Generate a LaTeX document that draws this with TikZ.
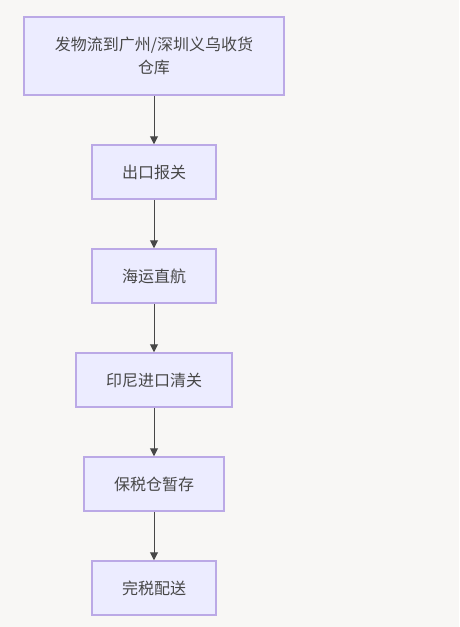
\documentclass[tikz,border=0pt]{standalone}
\usepackage{fontspec}
\setmainfont{Noto Sans CJK SC}
\usetikzlibrary{arrows.meta}
\definecolor{bgc}{HTML}{F8F7F5}
\definecolor{boxfill}{HTML}{ECECFF}
\definecolor{boxline}{HTML}{BBA9E6}
\definecolor{arrowc}{HTML}{333333}
\begin{document}
\begin{tikzpicture}[x=1pt,y=-1pt,
  stepbox/.style={draw=boxline,fill=boxfill,line width=1.5pt,inner sep=0pt,
    font=\fontsize{16}{23.5}\selectfont,text=arrowc!90,align=center},
  flow/.style={draw=arrowc!90,line width=1pt,-{Triangle[length=8pt,width=8pt]}}]
\fill[bgc] (0,0) rectangle (459,627);
\useasboundingbox (0,0) rectangle (459,627);
\node[stepbox,minimum width=260pt,minimum height=78pt] (n1) at (154,56) {发物流到广州/深圳义乌收货\\仓库};
\node[stepbox,minimum width=124pt,minimum height=54pt] (n2) at (154,172) {出口报关};
\node[stepbox,minimum width=124pt,minimum height=54pt] (n3) at (154,276) {海运直航};
\node[stepbox,minimum width=156pt,minimum height=54pt] (n4) at (154,380) {印尼进口清关};
\node[stepbox,minimum width=140pt,minimum height=54pt] (n5) at (154,484) {保税仓暂存};
\node[stepbox,minimum width=124pt,minimum height=54pt] (n6) at (154,588) {完税配送};
\draw[flow] (n1) -- (n2);
\draw[flow] (n2) -- (n3);
\draw[flow] (n3) -- (n4);
\draw[flow] (n4) -- (n5);
\draw[flow] (n5) -- (n6);
\end{tikzpicture}
\end{document}
